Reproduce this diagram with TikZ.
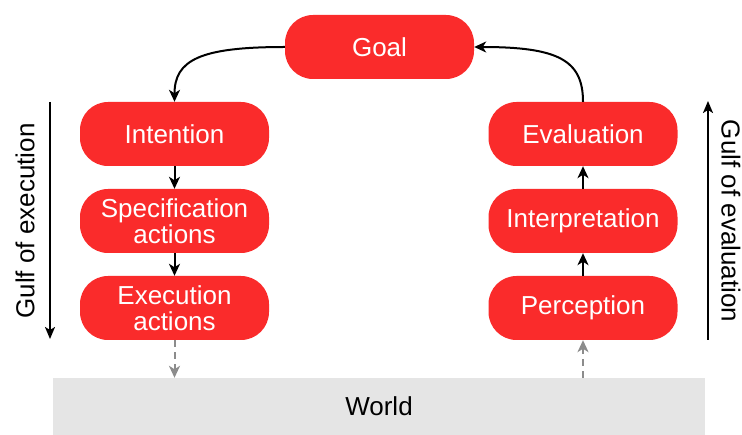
\documentclass[tikz,border=0pt]{standalone}
\usepackage{fontspec}
\setmainfont{Liberation Sans}
\usetikzlibrary{arrows.meta}
\definecolor{boxred}{RGB}{250,43,43}
\definecolor{worldgray}{RGB}{229,229,229}
\definecolor{dashgray}{RGB}{140,140,140}
\begin{document}
\begin{tikzpicture}[x=1pt,y=-1pt,
  stagebox/.style={rectangle, rounded corners=28pt, fill=boxred, text=white,
    minimum width=189pt, minimum height=64pt, inner sep=0pt, align=center,
    font=\fontsize{26}{26}\selectfont},
  flow/.style={-{Stealth[length=12pt,width=11pt,inset=3.5pt]}, line width=2pt, black},
  worldlink/.style={-{Stealth[length=12pt,width=11pt,inset=3.5pt]}, line width=2pt, dashgray, dash pattern=on 7pt off 5pt},
  gulf/.style={-{Stealth[length=12pt,width=10pt,inset=3pt]}, line width=2pt, black},
  gulftext/.style={font=\fontsize{26}{26}\selectfont, inner sep=0pt}]
\useasboundingbox (0,0) rectangle (742,435);
\node[stagebox] (goal) at (379.5,47) {Goal};
\node[stagebox] (intention) at (174.5,134) {Intention};
\node[stagebox] (spec) at (174.5,221) {Specification\\actions};
\node[stagebox] (exec) at (174.5,308) {Execution\\actions};
\node[stagebox] (eval) at (583,134) {Evaluation};
\node[stagebox] (interp) at (583,221) {Interpretation};
\node[stagebox] (perc) at (583,308) {Perception};
\node[rectangle, fill=worldgray, minimum width=652pt, minimum height=57pt, inner sep=0pt,
  font=\fontsize{26}{26}\selectfont] (world) at (379,406.5) {World};
\draw[flow] (goal.west) .. controls (200,47) and (174.5,60) .. (intention.north);
\draw[flow] (eval.north) .. controls (583,60) and (558,47) .. (goal.east);
\draw[flow] (intention) -- (spec);
\draw[flow] (spec) -- (exec);
\draw[flow] (perc) -- (interp);
\draw[flow] (interp) -- (eval);
\draw[worldlink] (exec.south) -- (exec.south |- world.north);
\draw[worldlink] (perc.south |- world.north) -- (perc.south);
\coordinate (ge1) at (50,102);
\coordinate (ge2) at (50,339);
\draw[gulf] (ge1) -- (ge2);
\node[gulftext, rotate=90] (gulfexec) at (25,221) {Gulf of execution};
\coordinate (gv1) at (708,340);
\coordinate (gv2) at (708,101);
\draw[gulf] (gv1) -- (gv2);
\node[gulftext, rotate=-90] (gulfeval) at (731,221) {Gulf of evaluation};
\end{tikzpicture}
\end{document}
